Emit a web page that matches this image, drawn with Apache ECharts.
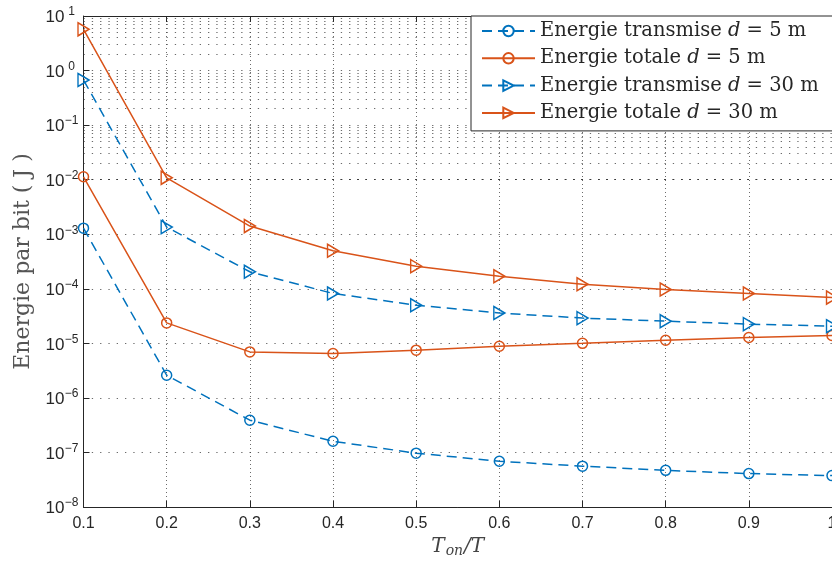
<!DOCTYPE html>
<html><head><meta charset="utf-8">
<script src="https://cdn.jsdelivr.net/npm/echarts@6/dist/echarts.min.js"></script>
<style>html,body{margin:0;padding:0;background:#fff}#c{width:832px;height:562px}</style>
</head><body><div id="c"></div>
<script>
const xValues = [0.1, 0.2, 0.3, 0.4, 0.5, 0.6, 0.7, 0.8, 0.9, 1.0];
const transmise5 = [1.29e-3, 2.6e-6, 3.9e-7, 1.6e-7, 9.7e-8, 6.9e-8, 5.6e-8, 4.7e-8, 4.1e-8, 3.76e-8];
const totale5 = [1.13e-2, 2.37e-5, 6.97e-6, 6.5e-6, 7.5e-6, 8.85e-6, 1.0e-5, 1.14e-5, 1.28e-5, 1.39e-5];
const transmise30 = [0.67, 1.35e-3, 2.05e-4, 8.2e-5, 5.0e-5, 3.6e-5, 2.9e-5, 2.55e-5, 2.25e-5, 2.06e-5];
const totale30 = [5.7, 1.08e-2, 1.41e-3, 4.97e-4, 2.6e-4, 1.7e-4, 1.21e-4, 9.7e-5, 8.2e-5, 6.9e-5];
const seriesNames = ['Energie transmise d = 5 m', 'Energie totale d = 5 m', 'Energie transmise d = 30 m', 'Energie totale d = 30 m'];
const decadeExponents = [-8, -7, -6, -5, -4, -3, -2, -1, 0];
const minorMultipliers = [2, 3, 4, 5, 6, 7, 8, 9];

const BLUE = '#0072BD', ORANGE = '#D95319', AX = '#262626';
const H_DASH = [1.3, 7];
const V_DASH = [1, 3];
const GRID_COLOR = '#3a3a3a';
const minorLines = [];
decadeExponents.forEach(e => minorMultipliers.forEach(m => minorLines.push({yAxis: m * Math.pow(10, e)})));

const pair = arr => arr.map((v, i) => [xValues[i], v]);
const TRI = 'path://M0,0L10,5L0,10Z';

function mk(name, data, color, dashed, symbol, size) {
  return {
    name, type: 'line', data: pair(data), color,
    symbol, symbolSize: size, showSymbol: true,
    lineStyle: {color, width: 1.5, type: dashed ? [10, 6] : 'solid'},
    itemStyle: {color: 'rgba(255,255,255,0)', borderColor: color, borderWidth: 1.5},
    emphasis: {disabled: true}, z: 3, animation: false
  };
}

const series = [
  mk(seriesNames[0], transmise5, BLUE, true, 'circle', 10),
  mk(seriesNames[1], totale5, ORANGE, false, 'circle', 10),
  mk(seriesNames[2], transmise30, BLUE, true, TRI, [11, 13]),
  mk(seriesNames[3], totale30, ORANGE, false, TRI, [11, 13])
];
series[0].markLine = {
  silent: true, symbol: ['none', 'none'], label: {show: false}, z: 1, animation: false,
  lineStyle: {color: GRID_COLOR, width: 1, type: H_DASH, opacity: 0.75},
  emphasis: {disabled: true},
  data: minorLines
};

const chart = echarts.init(document.getElementById('c'), null, {renderer: 'canvas'});
chart.setOption({
  animation: false,
  backgroundColor: '#fff',
  grid: {left: 83.5, right: 0, top: 16, bottom: 55, outerBoundsMode: 'none', containLabel: false},
  legend: {
    orient: 'vertical', left: 471, top: 16,
    backgroundColor: '#fff', borderColor: AX, borderWidth: 1,
    padding: [4, 30, 7, 10], itemGap: 5.3, itemWidth: 53, itemHeight: 13,
    z: 10,
    data: seriesNames,
    textStyle: {
      fontFamily: 'DejaVu Serif', fontSize: 19.5, color: AX, lineHeight: 22,
      rich: {i: {fontFamily: 'DejaVu Serif', fontStyle: 'italic', fontSize: 19.5, color: AX, lineHeight: 22}}
    },
    formatter: n => n.replace('d =', '{i|d} =')
  },
  xAxis: [{
    type: 'value', min: 0.1, max: 1, interval: 0.1,
    axisLine: {lineStyle: {color: AX, width: 1}},
    axisTick: {inside: true, length: 6, lineStyle: {color: AX}},
    axisLabel: {color: AX, fontFamily: 'Liberation Sans', fontSize: 16, margin: 9,
      formatter: v => Math.abs(v - 1) < 1e-9 ? '1' : v.toFixed(1)},
    splitLine: {show: true, lineStyle: {color: GRID_COLOR, type: V_DASH, opacity: 0.75}},
    name: '{it|T}{sub|on}{it|/T}', nameLocation: 'middle', nameGap: 27,
    nameTextStyle: {color: '#444', rich: {
      it: {fontFamily: 'DejaVu Serif', fontStyle: 'italic', fontSize: 20, color: '#444'},
      sub: {fontFamily: 'DejaVu Serif', fontStyle: 'italic', fontSize: 14, color: '#444', verticalAlign: 'bottom', padding: [8, 1, 0, 1]}
    }}
  }, {
    type: 'value', min: 0.1, max: 1, interval: 0.1, position: 'top',
    axisLine: {show: true, lineStyle: {color: AX, width: 1}},
    axisTick: {show: true, inside: true, length: 6, lineStyle: {color: AX}},
    axisLabel: {show: false}, splitLine: {show: false}
  }],
  yAxis: {
    type: 'log', logBase: 10, min: 1e-8, max: 10, interval: 1,
    axisLine: {show: true, lineStyle: {color: AX, width: 1}},
    axisTick: {show: true, inside: true, length: 6, lineStyle: {color: AX}},
    splitLine: {show: true, lineStyle: {color: GRID_COLOR, type: H_DASH, opacity: 0.75}},
    axisLabel: {
      margin: 5, color: AX,
      formatter: v => {
        const e = Math.round(Math.log10(v));
        return '{b|10}{s|' + (e < 0 ? '\u2212' + (-e) : e) + '}';
      },
      rich: {
        b: {fontFamily: 'Liberation Sans', fontSize: 17, color: AX, lineHeight: 20, verticalAlign: 'bottom'},
        s: {fontFamily: 'Liberation Sans', fontSize: 12, color: AX, verticalAlign: 'top', lineHeight: 20, width: 14, align: 'left', padding: [0, 0, 12, 0]}
      }
    },
    name: 'Energie par bit ( J )', nameLocation: 'middle', nameGap: 46,
    nameTextStyle: {fontFamily: 'DejaVu Serif', fontSize: 22, color: '#555'}
  },
  series
});
</script></body></html>
